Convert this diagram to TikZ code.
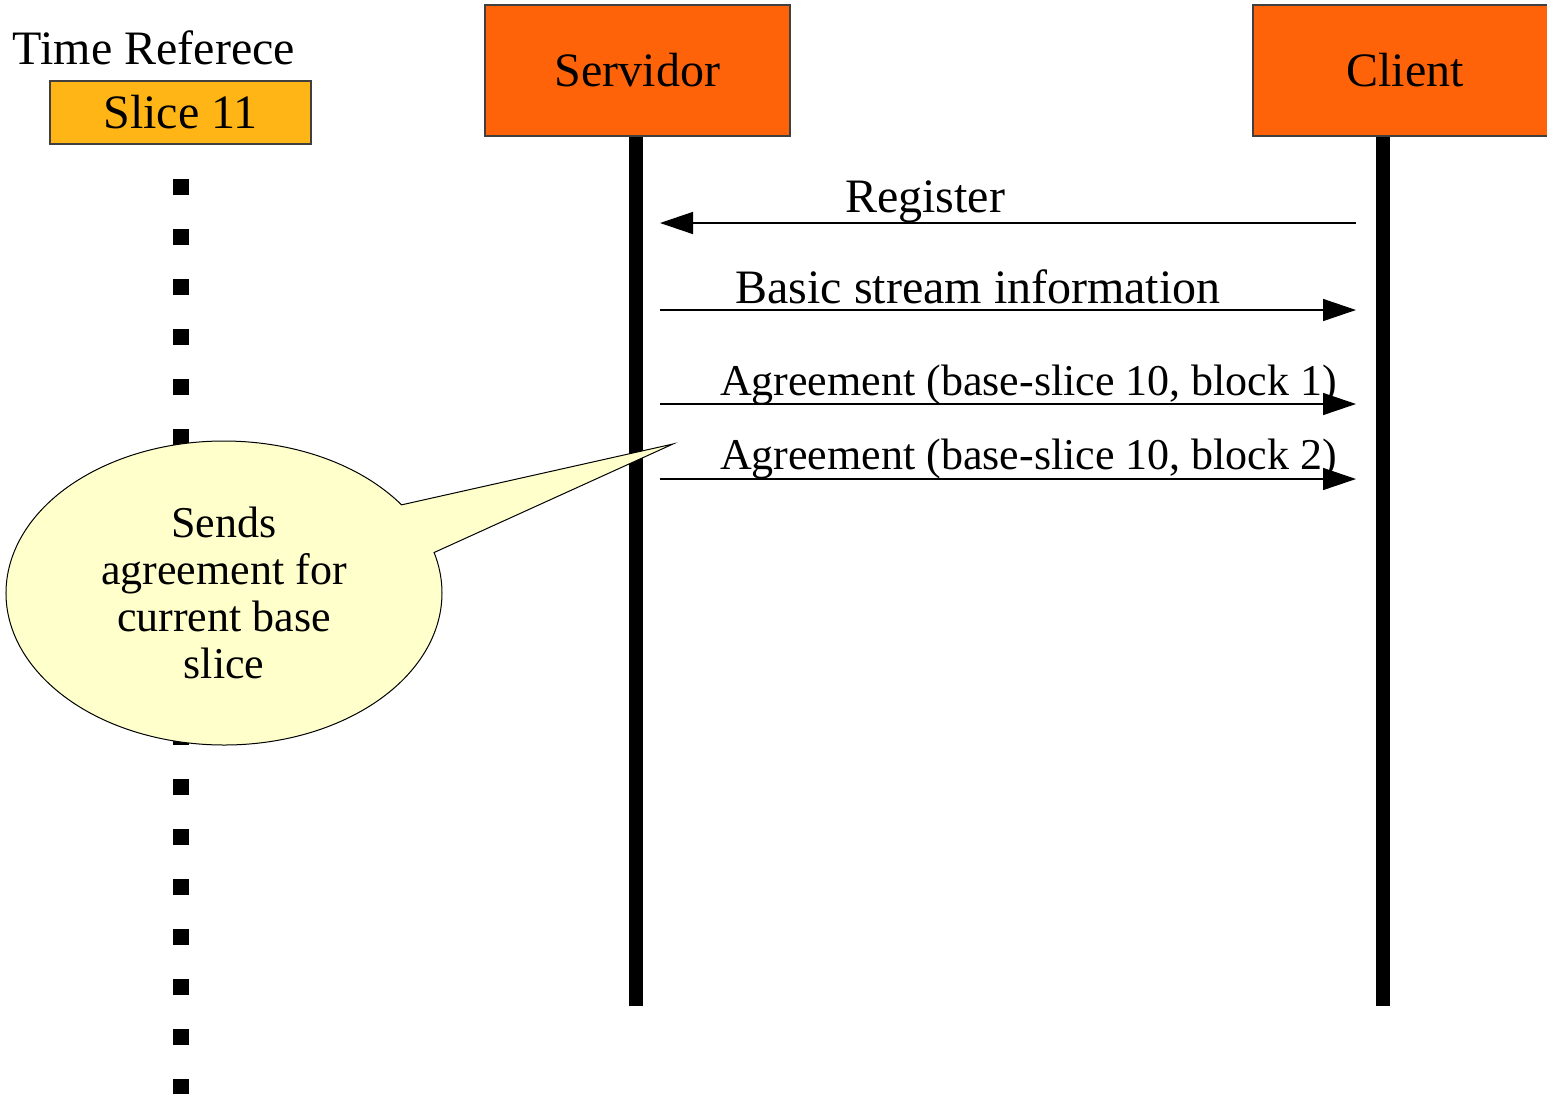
\documentclass[tikz,border=0pt]{standalone}
\usepackage{fontspec}
\setmainfont{Liberation Serif}
\usetikzlibrary{arrows.meta,shapes.callouts}
\definecolor{actorfill}{HTML}{FF6309}
\definecolor{slicefill}{HTML}{FFB515}
\definecolor{notefill}{HTML}{FFFFCC}
\definecolor{edgegray}{HTML}{404040}
\begin{document}
\begin{tikzpicture}[x=0.5pt,y=-0.5pt,
  bigtext/.style={font=\fontsize{24}{28}\selectfont},
  smalltext/.style={font=\fontsize{22}{23.4}\selectfont},
  actor/.style={bigtext, draw=edgegray, line width=0.6pt, fill=actorfill,
    inner sep=0pt, minimum height=65.5pt},
  slicebox/.style={bigtext, draw=edgegray, line width=0.6pt, fill=slicefill,
    inner sep=0pt, minimum width=130.5pt, minimum height=31.5pt},
  lifeline/.style={line width=7pt},
  timeline/.style={line width=8pt, dash pattern=on 8pt off 17pt},
  msg/.style={line width=0.7pt, -{Triangle[length=16.5pt,width=11pt]}},
  msglabel/.style={anchor=base, inner sep=0pt},
  note/.style={smalltext, ellipse callout, draw=black, line width=0.5pt,
    fill=notefill, align=center, inner sep=0pt,
    minimum width=218pt, minimum height=152pt, callout pointer arc=20}
]
\path[use as bounding box] (0,0) rectangle (1547,1093);

% time reference column
\node[bigtext, anchor=base, inner sep=0pt] (tref) at (154,64) {Time Referece};
\node[slicebox] (slice) at (180.5,112.5) {Slice 11};
\coordinate (tlTop) at (181,179);
\coordinate (tlBot) at (181,1095);
\draw[timeline] (tlTop) -- (tlBot);

% lifelines
\coordinate (servTop) at (636,136);
\coordinate (servBot) at (636,1006);
\coordinate (cliTop) at (1383,136);
\coordinate (cliBot) at (1383,1006);
\draw[lifeline] (servTop) -- (servBot);
\draw[lifeline] (cliTop) -- (cliBot);

% participants
\node[actor, minimum width=152.5pt] (serv) at (637.5,70.5) {Servidor};
\node[actor, minimum width=148pt] (cli) at (1401,70.5) {\hspace*{4pt}Client};

% message end points
\coordinate (s1) at (660,223);  \coordinate (c1) at (1356,223);
\coordinate (s2) at (660,310);  \coordinate (c2) at (1356,310);
\coordinate (s3) at (660,404);  \coordinate (c3) at (1356,404);
\coordinate (s4) at (660,479);  \coordinate (c4) at (1356,479);

% messages
\draw[msg] (c1) -- (s1);
\draw[msg] (s2) -- (c2);
\draw[msg] (s3) -- (c3);
\draw[msg] (s4) -- (c4);

\node[msglabel, bigtext] (m1) at (925,212) {Register};
\node[msglabel, bigtext] (m2) at (978,303) {Basic stream information};
\node[msglabel, smalltext] (m3) at (1028.5,395) {Agreement (base-slice 10, block 1)};
\node[msglabel, smalltext] (m4) at (1028.5,469) {Agreement (base-slice 10, block 2)};

% note
\node[note, callout absolute pointer={(673,444)}] (remark) at (224,593)
  {Sends\\agreement for\\current base\\slice};
\end{tikzpicture}
\end{document}
